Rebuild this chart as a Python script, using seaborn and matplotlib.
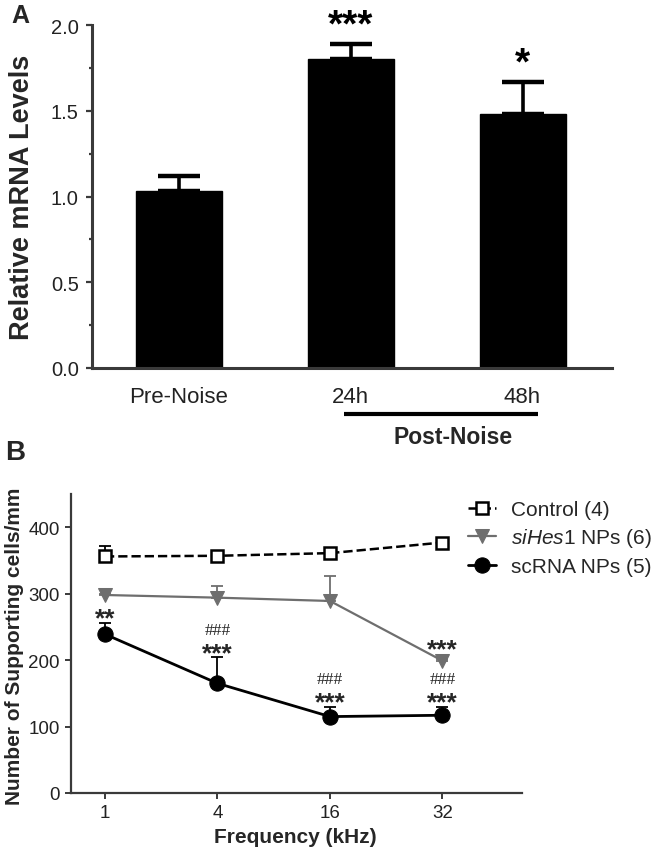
import numpy as np
import pandas as pd
import matplotlib
matplotlib.use("Agg")
import matplotlib.pyplot as plt
from matplotlib.ticker import MultipleLocator
import seaborn as sns

# ---- panel A data ----
time_points = ["Pre-Noise", "24h", "48h"]
mrna_mean = [1.03, 1.80, 1.48]
mrna_sem = [0.09, 0.09, 0.19]
mrna_stars = ["", "***", "*"]

# ---- panel B data ----
freq_labels = ["1", "4", "16", "32"]
control_mean = [356, 357, 361, 377]
control_sem = [15, 4, 4, 4]
sihes1_mean = [298, 294, 289, 199]
sihes1_sem = [2, 17, 38, 3]
scrna_mean = [239, 165, 115, 117]
scrna_sem = [17, 39, 15, 13]
scrna_stars = ["**", "***", "***", "***"]
scrna_hash = ["", "###", "###", "###"]
sihes1_stars = ["", "", "", "***"]

sns.set_style("ticks")
plt.rcParams["font.family"] = ["Liberation Sans", "DejaVu Sans"]
plt.rcParams["mathtext.fontset"] = "custom"
plt.rcParams["mathtext.it"] = "Liberation Sans:italic"
plt.rcParams["mathtext.rm"] = "Liberation Sans"

W, H = 661, 853
fig = plt.figure(figsize=(W / 100, H / 100), dpi=100)
fig.patch.set_facecolor("white")


def fx(px):
    return px / W


def fy(py):
    return 1 - py / H


axis_col = "#3a3a3a"

# ================= Panel A =================
ax_a = fig.add_axes([fx(92), fy(369), fx(612) - fx(92), fy(26) - fy(369)])
df_a = pd.DataFrame({"time": time_points, "level": mrna_mean})
sns.barplot(data=df_a, x="time", y="level", color="black", width=0.5,
            errorbar=None, edgecolor="black", saturation=1, ax=ax_a)
xa = np.arange(len(time_points))
ax_a.errorbar(xa, mrna_mean, yerr=[np.zeros(len(xa)), mrna_sem], fmt="none",
              ecolor="black", elinewidth=2.6, capsize=15, capthick=3.2, zorder=1)
for x, m, e, s in zip(xa, mrna_mean, mrna_sem, mrna_stars):
    if s:
        ax_a.text(x, m + e + 0.0, s, ha="center", va="bottom", fontsize=28,
                  fontweight="bold", color="black")

ax_a.set_xlim(-0.503, 2.52)
ax_a.set_ylim(0, 2.0)
ax_a.yaxis.set_major_locator(MultipleLocator(0.5))
ax_a.yaxis.set_minor_locator(MultipleLocator(0.25))
ax_a.yaxis.set_major_formatter(matplotlib.ticker.FormatStrFormatter("%.1f"))
ax_a.set_xlabel("")
ax_a.set_ylabel("")
sns.despine(ax=ax_a)
for sp in ["left", "bottom"]:
    ax_a.spines[sp].set_linewidth(2.2)
    ax_a.spines[sp].set_color(axis_col)
ax_a.tick_params(axis="y", which="major", length=4.5, width=1.6, color=axis_col,
                 labelsize=14.5, labelcolor="#222222", pad=5)
ax_a.tick_params(axis="y", which="minor", length=2.3, width=1.6, color=axis_col)
ax_a.tick_params(axis="x", length=0, labelsize=16, labelcolor="#222222", pad=13)

# Post-Noise bracket under 24h and 48h
ax_a.plot([0.962, 2.09], [-0.268, -0.268], color="black", lw=3, clip_on=False,
          solid_capstyle="butt")
ax_a.text(1.596, -0.4, "Post-Noise", ha="center", va="center", fontsize=16.5,
          fontweight="bold", clip_on=False)

fig.text(fx(22), fy(197), "Relative mRNA Levels", rotation=90, ha="center",
         va="center", fontsize=19.5, fontweight="bold")
fig.text(fx(20), fy(16), "A", ha="center", va="center", fontsize=18,
         fontweight="bold")

# ================= Panel B =================
ax_b = fig.add_axes([fx(71), fy(794), fx(522) - fx(71), fy(495) - fy(794)])
xb = np.arange(len(freq_labels))

sns.lineplot(x=xb, y=control_mean, ax=ax_b, color="black", linestyle="--",
             dashes=(3.2, 2.4), lw=1.8, marker="s", markersize=9,
             markerfacecolor="white", markeredgecolor="black",
             markeredgewidth=1.8, label="Control (4)", legend=False)
h_ctrl = ax_b.lines[-1]
sns.lineplot(x=xb, y=sihes1_mean, ax=ax_b, color="#6e6e6e", lw=1.6,
             marker="v", markersize=10, markeredgecolor="#6e6e6e",
             label=r"$\mathit{siHes1}$ NPs (6)", legend=False)
h_si = ax_b.lines[-1]
sns.lineplot(x=xb, y=scrna_mean, ax=ax_b, color="black", lw=2.0,
             marker="o", markersize=11, markeredgecolor="black",
             label="scRNA NPs (5)", legend=False)
h_sc = ax_b.lines[-1]

for mean, sem, col in [(control_mean, control_sem, "black"),
                       (sihes1_mean, sihes1_sem, "#6e6e6e"),
                       (scrna_mean, scrna_sem, "black")]:
    ax_b.errorbar(xb, mean, yerr=[np.zeros(len(xb)), sem], fmt="none",
                  ecolor=col, elinewidth=1.3, capsize=4.5, capthick=1.3,
                  zorder=1)

# significance marks sit just above each upper error bar
for x, s, hs in zip(xb, scrna_stars, scrna_hash):
    top = scrna_mean[x] + scrna_sem[x]
    ax_b.text(x, top - 4, s, ha="center", va="baseline",
              fontsize=19, fontweight="bold")
    if hs:
        ax_b.text(x, top + 35, hs, ha="center", va="baseline",
                  fontsize=12.5, family=["Liberation Serif", "DejaVu Serif"])
for x, s in zip(xb, sihes1_stars):
    if s:
        ax_b.text(x, sihes1_mean[x] + sihes1_sem[x] + 3, s, ha="center",
                  va="baseline", fontsize=19, fontweight="bold")

ax_b.set_xlim(-0.302, 3.707)
ax_b.set_ylim(0, 450)
ax_b.set_xticks(xb)
ax_b.set_xticklabels(freq_labels)
ax_b.yaxis.set_major_locator(MultipleLocator(100))
sns.despine(ax=ax_b)
for sp in ["left", "bottom"]:
    ax_b.spines[sp].set_linewidth(1.6)
    ax_b.spines[sp].set_color(axis_col)
ax_b.tick_params(axis="both", length=4.5, width=1.4, color=axis_col,
                 labelsize=13.5, labelcolor="#222222", pad=3.6)

ax_b.legend(handles=[h_ctrl, h_si, h_sc], loc="upper left",
            bbox_to_anchor=(fx(468), fy(501)), bbox_transform=fig.transFigure,
            frameon=False, fontsize=15, handlelength=1.35, handletextpad=0.7,
            labelspacing=0.36, borderpad=0, borderaxespad=0)

fig.text(fx(295), fy(838), "Frequency (kHz)", ha="center", va="center",
         fontsize=15, fontweight="bold")
fig.text(fx(14.5), fy(646), "Number of Supporting cells/mm", rotation=90,
         ha="center", va="center", fontsize=15, fontweight="bold")
fig.text(fx(15), fy(453), "B", ha="center", va="center", fontsize=20,
         fontweight="bold")

fig.savefig("out.png", dpi=100, facecolor="white")
